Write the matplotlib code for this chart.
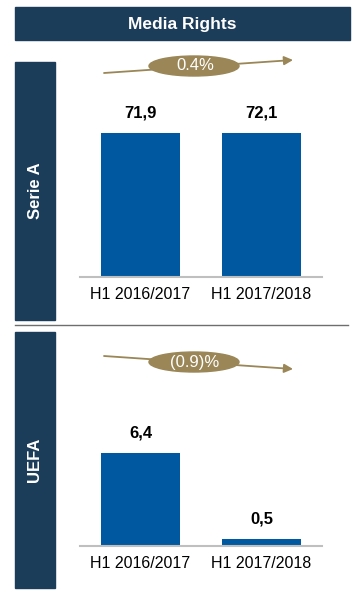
import matplotlib.pyplot as plt
from matplotlib.patches import Rectangle, Ellipse, FancyArrowPatch

plt.rcParams['font.family'] = ['Liberation Sans', 'DejaVu Sans']

periods = ["H1 2016/2017", "H1 2017/2018"]
serie_a = [71.9, 72.1]
uefa = [6.4, 0.5]
serie_a_labels = ["71,9", "72,1"]
uefa_labels = ["6,4", "0,5"]
serie_a_growth = "0.4%"
uefa_growth = "(0.9)%"

W, H = 356, 602
NAVY = "#1c3d59"
BLUE = "#0059a0"
GOLD = "#9a8656"

fig = plt.figure(figsize=(W / 100, H / 100), dpi=100)


def fx(px):
    return px / W


def fy(py):
    return 1 - py / H


# header
fig.patches.append(Rectangle((fx(15), fy(40)), fx(335), 33 / H,
                             transform=fig.transFigure, color=NAVY))
fig.text(fx(182), fy(24), "Media Rights", color="white", fontsize=12.5,
         fontweight="bold", ha="center", va="center")

# side bars
for top, bot, name in [(62, 320, "Serie A"), (332, 588, "UEFA")]:
    fig.patches.append(Rectangle((fx(15), fy(bot)), fx(40), (bot - top) / H,
                                 transform=fig.transFigure, color=NAVY))
    fig.text(fx(35), fy((top + bot) / 2), name, color="white", fontsize=12,
             fontweight="bold", rotation=90, ha="center", va="center")

# separator
fig.add_artist(plt.Line2D([fx(15), fx(348)], [fy(325), fy(325)],
                          transform=fig.transFigure, color="#6e6e6e", lw=1))


def panel(top, base, values, labels, ymax):
    ax = fig.add_axes([fx(80), fy(base), fx(242), (base - top) / H])
    x = range(len(values))
    ax.bar(x, values, width=0.66, color=BLUE)
    for i, (v, lab) in enumerate(zip(values, labels)):
        ax.annotate(lab, (i, v), xytext=(0, 9), textcoords="offset points",
                    ha="center", va="bottom", fontsize=12, fontweight="bold")
    ax.set_xlim(-0.5, 1.5)
    ax.set_ylim(0, ymax)
    ax.set_xticks(list(x))
    ax.set_xticklabels(periods, fontsize=11.5)
    ax.tick_params(axis="x", length=0, pad=7)
    ax.set_yticks([])
    for s in ["top", "left", "right"]:
        ax.spines[s].set_visible(False)
    ax.spines["bottom"].set_color("#bfbfbf")
    ax.spines["bottom"].set_linewidth(1.5)
    return ax


panel(62, 277, serie_a, serie_a_labels, 71.9 * 215 / 144)
panel(332, 546, uefa, uefa_labels, 6.4 * 214 / 93)


def growth(y0, y1, text):
    fig.add_artist(FancyArrowPatch((fx(104), fy(y0)), (fx(293), fy(y1)),
                                   transform=fig.transFigure, arrowstyle="-|>",
                                   mutation_scale=13, color=GOLD, lw=1.3,
                                   shrinkA=0, shrinkB=0))
    cy = (y0 + y1) / 2 - 0.5
    fig.patches.append(Ellipse((fx(194), fy(cy)), fx(90), 20 / H,
                               transform=fig.transFigure, color=GOLD))
    fig.text(fx(195), fy(cy), text, color="white", fontsize=12,
             ha="center", va="center")


growth(73, 60, serie_a_growth)
growth(356, 369, uefa_growth)

fig.savefig("out.png", dpi=100)
